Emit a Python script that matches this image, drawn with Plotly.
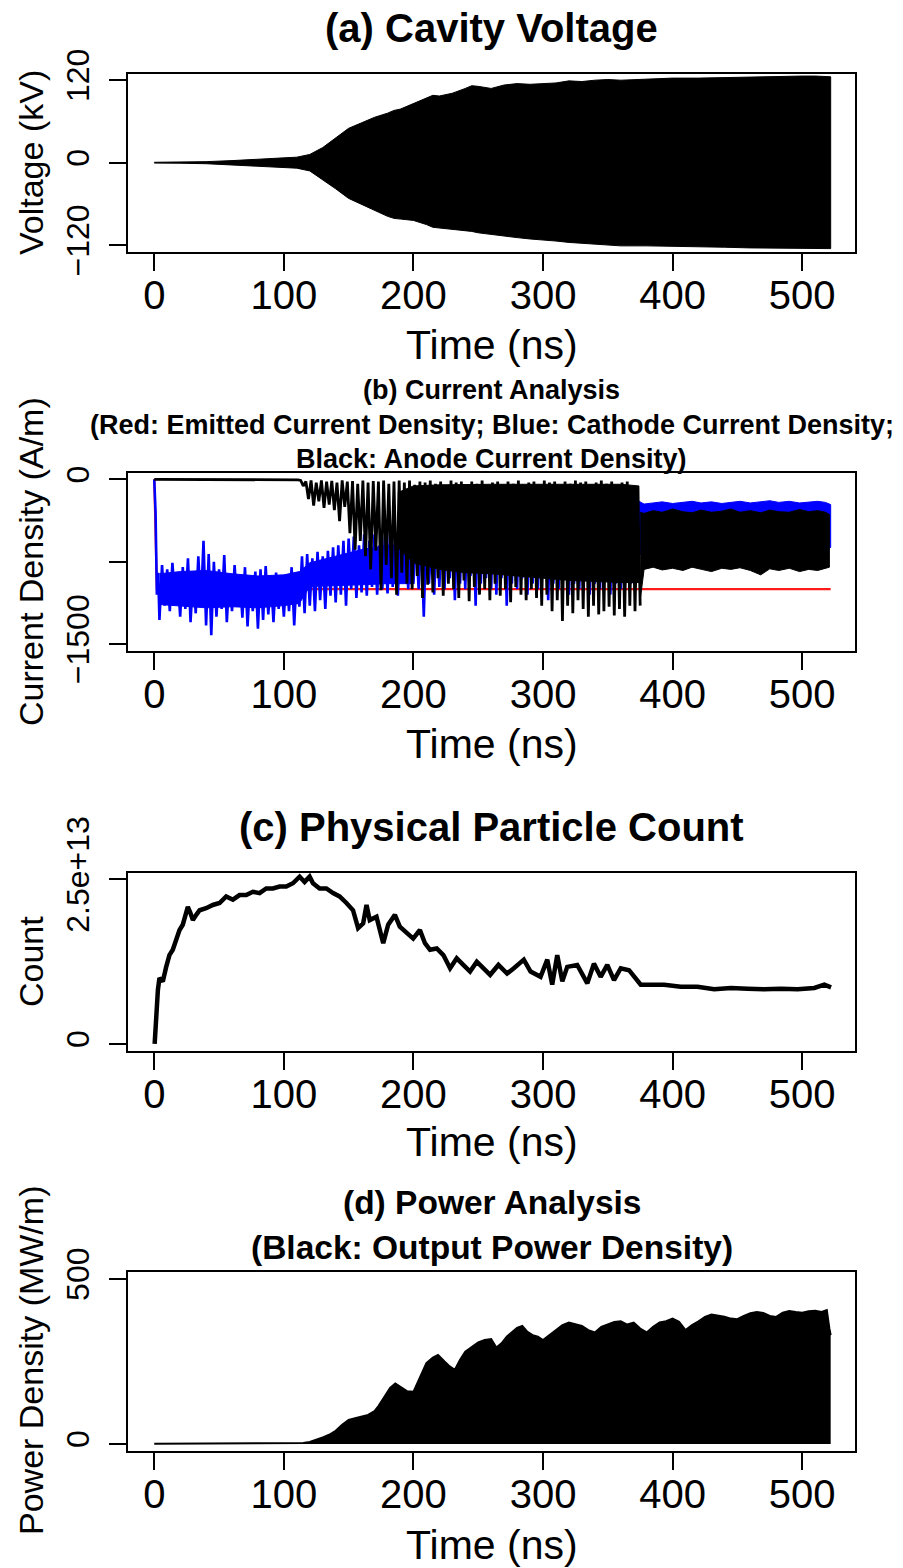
import plotly.graph_objects as go

W, H = 903, 1568
FONT = "Liberation Sans, Arial, Helvetica, sans-serif"

# ---------------- data ----------------
x_ticks = [0, 100, 200, 300, 400, 500]
x_tick_text = ["0", "100", "200", "300", "400", "500"]

# (a) cavity voltage envelope (kV)
volt_t = [0, 20, 40, 60, 80, 100, 110, 120, 130, 140,
          150, 160, 170, 180, 185, 190, 200, 210, 215, 220,
          230, 240, 245, 250, 260, 270, 280, 290, 300, 310,
          320, 330, 340, 350, 360, 380, 400, 420, 440, 460,
          480, 500, 510, 520, 522]
volt_upper = [0.6, 0.8, 1.5, 3, 4.5, 7, 8, 12, 22, 36,
              50, 58, 66, 72, 76, 78, 86, 93, 98, 97,
              101, 108, 112, 111, 108, 113, 115, 114, 115, 116,
              119, 118, 120, 121, 120, 122, 123, 123, 124, 125,
              125, 126, 126, 126, 125]
volt_lower = [-0.6, -0.8, -1.5, -3, -4.5, -7, -8, -12, -25, -38,
              -52, -60, -69, -78, -81, -82, -84, -90, -94, -95,
              -97, -99, -100, -102, -104, -107, -109, -111, -113, -114,
              -116, -117, -118, -120, -121, -121, -122, -122, -123, -124,
              -124, -124, -125, -125, -125]

# (b) emitted current density (A/m)
emit_t = [0, 2, 522]
emit_v = [0, -1000, -1000]

# (b) cathode current density (A/m): spikes, dense core, late-time band
cath_t = [0, 1, 2, 3] + list(range(4, 375, 2))
cath_v = [0, -300, -1050, -850,
          -1280, -780, -1150, -820, -1200, -760, -1100, -870, -1250, -800,
          -1180, -720, -1300, -850, -1220, -700, -1150, -560, -1330, -680,
          -1420, -750, -1250, -820, -1180, -690, -1300, -860, -1200, -780,
          -1150, -880, -1260, -800, -1340, -900, -1200, -840, -1360, -820,
          -1280, -790, -1230, -880, -1300, -850, -1180, -900, -1250, -870,
          -1200, -800, -1330, -860, -1160, -700, -1220, -680, -1150, -720,
          -1200, -660, -1100, -700, -1180, -650, -1060, -620, -1120, -600,
          -1050, -560, -1150, -540, -1000, -520, -1080, -600, -1030, -500,
          -1060, -560, -980, -500, -1050, -600, -1000, -520, -1040, -480,
          -980, -480, -1060, -450, -900, -520, -1000, -430, -950, -500,
          -1000, -480, -1250, -420, -950, -500, -1050, -450, -980, -400,
          -1000, -380, -900, -350, -1100, -300, -950, -250, -1000, -220,
          -880, -220, -1150, -180, -950, -250, -900, -150, -1000, -200,
          -1050, -160, -900, -140, -1150, -200, -950, -130, -1000, -180,
          -900, -150, -1050, -200, -950, -130, -1000, -170, -900, -140,
          -1100, -160, -950, -120, -1000, -180, -900, -130, -1050, -110,
          -950, -150, -1000, -100, -900, -140, -1050, -90, -950, -130,
          -1000, -80, -900, -120, -1050, -90, -950, -110, -1000, -80,
          -900, -100, -950, -120, -850, -200]
cath_core_t = [4, 20, 40, 60, 80, 100, 112, 120, 140, 160, 180, 200]
cath_core_top = [-860, -840, -830, -860, -880, -870, -840, -760, -700, -640, -600, -600]
cath_core_bottom = [-1140, -1150, -1170, -1160, -1170, -1150, -1130, -975, -970, -960, -950, -950]
cath_band_t = [374, 378, 385, 392, 400, 408, 415, 422, 430, 438, 445,
               452, 460, 468, 475, 482, 490, 498, 505, 512, 518, 522]
cath_band_top = [-200, -225, -215, -205, -220, -210, -200, -215, -205, -220, -210,
                 -200, -215, -205, -195, -210, -200, -215, -205, -200, -210, -230]
cath_band_bottom = [-700, -650, -640, -650, -640, -650, -640, -650, -640, -650, -640,
                    -650, -640, -650, -640, -650, -640, -650, -640, -650, -640, -620]

# (b) anode current density (A/m): spikes, dense core, late-time band
anode_t = [0, 60, 111] + list(range(113, 376, 2))
anode_v = [0, 0, -5,
           -10, -60, -20, -180, -10, -240, -30, -200, -10, -260,
           -20, -230, -15, -280, -30, -380, -10, -250, -20, -490,
           -15, -640, -40, -560, -10, -700, -30, -820, -15, -650,
           -20, -1010, -10, -780, -40, -900, -20, -1050, -10, -850,
           -30, -950, -10, -1000, -50, -880, -20, -1080, -30, -960,
           -10, -1030, -40, -900, -20, -1060, -60, -950, -10, -1000,
           -30, -1080, -20, -920, -50, -1110, -20, -980, -40, -1050,
           -10, -1000, -60, -1100, -30, -950, -20, -1060, -50, -1000,
           -20, -1120, -40, -980, -10, -1050, -60, -1100, -30, -1000,
           -20, -1080, -50, -1150, -10, -1050, -30, -1200, -20, -1100,
           -60, -1290, -20, -1150, -40, -1220, -10, -1100, -30, -1180,
           -20, -1250, -50, -1150, -30, -1230, -10, -1200, -40, -1160,
           -20, -1240, -50, -1180, -30, -1250, -20, -1150, -60, -1200,
           -60, -1150]
anode_core_t = [188, 200, 220, 240, 260, 280, 300, 320, 340, 360, 374]
anode_core_top = [-120, -60, -50, -45, -45, -45, -45, -40, -45, -45, -60]
anode_core_bottom = [-620, -760, -820, -850, -860, -880, -900, -920, -930, -940, -940]
anode_band_t = [375, 378, 385, 392, 400, 408, 415, 422, 430, 438, 445,
                452, 460, 468, 475, 482, 490, 498, 505, 512, 518, 521]
anode_band_top = [-300, -310, -285, -300, -270, -295, -305, -280, -300, -290, -270,
                  -300, -285, -305, -280, -295, -300, -275, -295, -285, -300, -320]
anode_band_bottom = [-1100, -820, -800, -825, -810, -830, -800, -815, -840, -810, -820,
                     -805, -830, -870, -815, -830, -810, -840, -820, -830, -810, -800]

# (c) physical particle count
count_t = [0.3, 1.5, 2.8, 4, 6.6, 9.2, 11.7, 14.3, 16.9, 19.5,
           22, 24.6, 25.9, 27.7, 29.8, 32.4, 35, 40, 45.2, 50.4,
           55.5, 60.7, 65.8, 71, 76.1, 81.3, 86.4, 91.6, 96.7, 101.9,
           107, 112.2, 116, 119.9, 122.5, 127.6, 132.8, 138, 143, 148.3,
           153.4, 157.3, 161.2, 163.8, 166.3, 171.5, 176.7, 180.5, 185.7, 189.5,
           194.7, 199.8, 205, 208.9, 212.8, 218, 223.1, 228.3, 233.4, 238.6,
           243.7, 248.9, 254, 259.2, 265.6, 272.3, 277.5, 285.2, 290.4, 298.1,
           303.3, 307.1, 311, 314.9, 318.7, 326.4, 334.2, 339.3, 344.5, 349.6,
           354.8, 360, 366.4, 371.5, 375.4, 380.6, 393.5, 406.3, 419.2, 432.1,
           445, 457.9, 470.7, 483.6, 496.5, 509.4, 517.1, 522.3]
count_v = [0, 0.52e13, 0.82e13, 1.0e13, 0.95e13, 1.17e13, 1.35e13, 1.43e13, 1.58e13, 1.73e13,
           1.81e13, 2.03e13, 2.08e13, 2.0e13, 1.88e13, 1.96e13, 2.03e13, 2.06e13, 2.11e13, 2.14e13,
           2.24e13, 2.19e13, 2.26e13, 2.26e13, 2.31e13, 2.29e13, 2.36e13, 2.36e13, 2.39e13, 2.39e13,
           2.44e13, 2.54e13, 2.46e13, 2.54e13, 2.44e13, 2.36e13, 2.36e13, 2.29e13, 2.24e13, 2.14e13,
           2.03e13, 1.76e13, 1.83e13, 2.11e13, 1.88e13, 1.93e13, 1.53e13, 1.81e13, 1.96e13, 1.78e13,
           1.68e13, 1.60e13, 1.73e13, 1.53e13, 1.43e13, 1.45e13, 1.35e13, 1.15e13, 1.30e13, 1.20e13,
           1.10e13, 1.25e13, 1.15e13, 1.05e13, 1.20e13, 1.07e13, 1.15e13, 1.28e13, 1.10e13, 1.02e13,
           1.28e13, 0.90e13, 1.35e13, 0.95e13, 1.17e13, 1.20e13, 0.92e13, 1.22e13, 1.02e13, 1.20e13,
           0.97e13, 1.15e13, 1.12e13, 1.00e13, 0.90e13, 0.90e13, 0.90e13, 0.87e13, 0.87e13, 0.83e13,
           0.85e13, 0.84e13, 0.83e13, 0.84e13, 0.83e13, 0.85e13, 0.90e13, 0.86e13]

# (d) output power density envelope (MW/m)
power_t = [0, 50, 100, 115, 120, 125, 130, 135, 140, 145,
           150, 155, 160, 165, 170, 173, 178, 182, 186, 190,
           195, 200, 205, 210, 215, 219, 224, 228, 232, 236,
           240, 245, 250, 255, 260, 264, 268, 272, 276, 280,
           284, 288, 292, 296, 300, 305, 310, 315, 320, 325,
           330, 335, 340, 345, 350, 355, 360, 365, 370, 375,
           380, 385, 390, 395, 400, 405, 410, 415, 420, 425,
           430, 435, 440, 445, 450, 455, 460, 465, 470, 475,
           480, 485, 490, 495, 500, 505, 510, 515, 519, 521,
           522]
power_v = [1, 1, 2, 3, 6, 12, 20, 28, 40, 58,
           73, 78, 83, 88, 100, 115, 145, 170, 183, 172,
           160, 158, 200, 245, 262, 270, 250, 235, 225, 255,
           280, 295, 308, 315, 318, 292, 305, 325, 338, 352,
           358, 340, 330, 325, 315, 330, 345, 360, 368, 362,
           358, 345, 338, 355, 362, 370, 372, 362, 368, 350,
           338, 355, 368, 372, 380, 370, 345, 360, 372, 385,
           392, 390, 386, 380, 378, 388, 396, 400, 397, 388,
           385, 398, 403, 400, 398, 402, 404, 400, 406, 350,
           330]

# ---------------- layout helpers ----------------
def py(pix):
    return 1 - pix / H

def px(pix):
    return pix / W

XDOM = [px(127.7), px(855.3)]
boxes = {  # top, bottom pixel rows of each plot box
    1: (74.0, 251.7),
    2: (473.3, 651.3),
    3: (872.7, 1050.7),
    4: (1272.3, 1450.7),
}

fig = go.Figure()

def band(t, top, bottom, color, xa, ya):
    fig.add_trace(go.Scatter(
        x=list(t) + list(t)[::-1], y=list(top) + list(bottom)[::-1],
        mode="lines", fill="toself", fillcolor=color,
        line=dict(color=color, width=1), xaxis=xa, yaxis=ya,
        hoverinfo="skip", showlegend=False))

BLUE = "#0000ff"

# (a)
band(volt_t, volt_upper, volt_lower, "black", "x", "y")

# (b)
fig.add_trace(go.Scatter(x=emit_t, y=emit_v, mode="lines",
                         line=dict(color="#ff1a1a", width=2.2), xaxis="x2", yaxis="y2",
                         showlegend=False))
band(cath_core_t, cath_core_top, cath_core_bottom, BLUE, "x2", "y2")
fig.add_trace(go.Scatter(x=cath_t, y=cath_v, mode="lines",
                         line=dict(color=BLUE, width=2.6), xaxis="x2", yaxis="y2",
                         showlegend=False))
band(cath_band_t, cath_band_top, cath_band_bottom, BLUE, "x2", "y2")
band(anode_core_t, anode_core_top, anode_core_bottom, "black", "x2", "y2")
fig.add_trace(go.Scatter(x=anode_t, y=anode_v, mode="lines",
                         line=dict(color="black", width=2.8), xaxis="x2", yaxis="y2",
                         showlegend=False))
band(anode_band_t, anode_band_top, anode_band_bottom, "black", "x2", "y2")

# (c)
fig.add_trace(go.Scatter(x=count_t, y=count_v, mode="lines",
                         line=dict(color="black", width=4.5), xaxis="x3", yaxis="y3",
                         showlegend=False))

# (d)
fig.add_trace(go.Scatter(x=power_t, y=power_v, mode="lines", fill="tozeroy",
                         fillcolor="black", line=dict(color="black", width=2),
                         xaxis="x4", yaxis="y4", showlegend=False))

axis_common = dict(showline=True, mirror=True, linecolor="black", linewidth=1.6,
                   ticks="outside", ticklen=17, tickwidth=1.6, tickcolor="black",
                   showgrid=False, zeroline=False, fixedrange=True, automargin=False)

y_specs = {
    1: dict(range=[-129.5, 129.0], tickvals=[-120, 0, 120], ticktext=["\u2212120", "0", "120"]),
    2: dict(range=[-1566, 55], tickvals=[-1500, -750, 0], ticktext=["\u22121500", "", "0"]),
    3: dict(range=[-1.02e12, 2.6e13], tickvals=[0, 2.5e13], ticktext=["0", "2.5e+13"]),
    4: dict(range=[-20.3, 520.3], tickvals=[0, 500], ticktext=["0", "500"]),
}

layout = dict(width=W, height=H, autosize=False,
              margin=dict(l=0, r=0, t=0, b=0, pad=0, autoexpand=False),
              paper_bgcolor="white", plot_bgcolor="white",
              font=dict(family=FONT, color="black"), showlegend=False)

for i in range(1, 5):
    sx = "" if i == 1 else str(i)
    top, bot = boxes[i]
    layout["xaxis" + sx] = dict(axis_common, domain=XDOM, range=[-20.5, 541],
                                tickvals=x_ticks, ticktext=x_tick_text,
                                tickfont=dict(size=40, family=FONT),
                                ticklabelstandoff=-10, anchor="y" + sx)
    layout["yaxis" + sx] = dict(axis_common, domain=[py(bot), py(top)],
                                tickangle=-90, tickfont=dict(size=32, family=FONT),
                                ticklabelstandoff=7, anchor="x" + sx, **y_specs[i])

fig.update_layout(**layout)

def ann(text, xpix, ypix, size, angle=0):
    fig.add_annotation(text=text, x=px(xpix), y=py(ypix), xref="paper", yref="paper",
                       xanchor="center", yanchor="middle", showarrow=False,
                       textangle=angle, font=dict(size=size, family=FONT, color="black"))

CX = 491.5
ann("<b>(a) Cavity Voltage</b>", CX, 28, 40)
ann("<b>(b) Current Analysis</b>", CX, 390, 27)
ann("<b>(Red: Emitted Current Density; Blue: Cathode Current Density;</b>", CX, 425, 27)
ann("<b>Black: Anode Current Density)</b>", CX, 459, 27)
ann("<b>(c) Physical Particle Count</b>", CX, 827, 40)
ann("<b>(d) Power Analysis</b>", CX, 1202, 33.5)
ann("<b>(Black: Output Power Density)</b>", CX, 1247, 33.5)
for ycen in (345, 744, 1142, 1545):
    ann("Time (ns)", CX, ycen, 41)
ann("Voltage (kV)", 31, 163, 34, -90)
ann("Current Density (A/m)", 31, 562, 34, -90)
ann("Count", 31, 962, 34, -90)
ann("Power Density (MW/m)", 31, 1361, 34, -90)

fig.write_html("out.html", config={"displayModeBar": False})
